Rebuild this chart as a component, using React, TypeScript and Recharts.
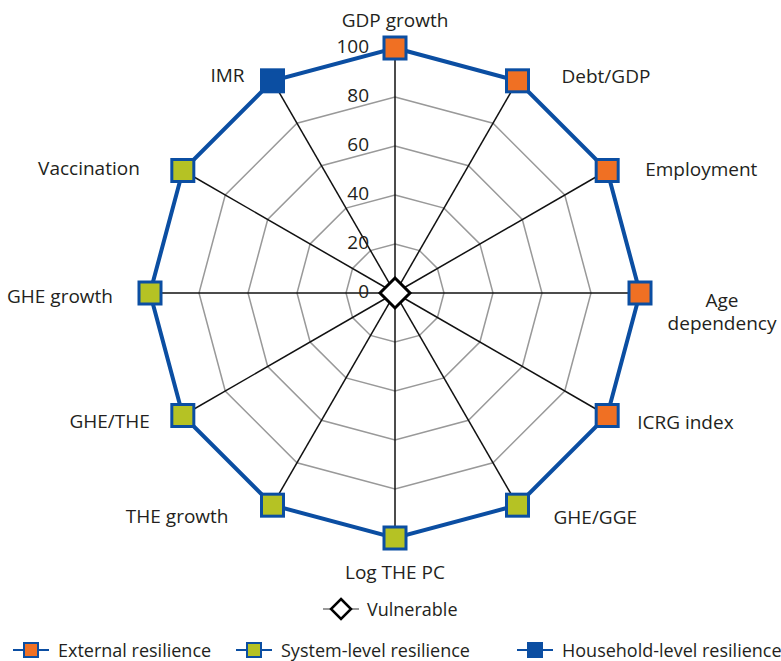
import React from "react";
import {
  RadarChart,
  Radar,
  PolarGrid,
  PolarAngleAxis,
  PolarRadiusAxis,
} from "recharts";

// indicators clockwise from the top
const indicators = [
  "GDP growth",
  "Debt/GDP",
  "Employment",
  "Age dependency",
  "ICRG index",
  "GHE/GGE",
  "Log THE PC",
  "THE growth",
  "GHE/THE",
  "GHE growth",
  "Vaccination",
  "IMR",
];

const scores = [100, 100, 100, 100, 100, 100, 100, 100, 100, 100, 100, 100];
const vulnerable = [0, 0, 0, 0, 0, 0, 0, 0, 0, 0, 0, 0];

// which resilience group each indicator belongs to
const groups = [
  "external",
  "external",
  "external",
  "external",
  "external",
  "system",
  "system",
  "system",
  "system",
  "system",
  "system",
  "household",
];

const radiusTicks = [0, 20, 40, 60, 80, 100];

const data = indicators.map((axis, i) => ({
  axis,
  score: scores[i],
  vulnerable: vulnerable[i],
}));

const BLUE = "#0b4ea2";
const ORANGE = "#f07023";
const GREEN = "#b5c224";
const TEXT = "#231f20";
const FONT = "'Open Sans', sans-serif";
const FS = 19;
const LEGEND_FS = 18;

const CX = 395;
const CY = 293;
const R = 245;

const fills: Record<string, string> = {
  external: ORANGE,
  system: GREEN,
  household: BLUE,
};

// label placement relative to the axis end point
const labelOffsets: Record<string, { dx: number; dy: number; anchor: string }> = {
  "GDP growth": { dx: 0, dy: -28, anchor: "middle" },
  "Debt/GDP": { dx: 44, dy: -4, anchor: "start" },
  Employment: { dx: 38, dy: -1, anchor: "start" },
  "Age dependency": { dx: 82, dy: 7, anchor: "middle" },
  "ICRG index": { dx: 30, dy: 7, anchor: "start" },
  "GHE/GGE": { dx: 36, dy: 12, anchor: "start" },
  "Log THE PC": { dx: 0, dy: 34, anchor: "middle" },
  "THE growth": { dx: -44, dy: 11, anchor: "end" },
  "GHE/THE": { dx: -33, dy: 6, anchor: "end" },
  "GHE growth": { dx: -37, dy: 3, anchor: "end" },
  Vaccination: { dx: -43, dy: -2, anchor: "end" },
  IMR: { dx: -28, dy: -5, anchor: "end" },
};

function AngleTick(props: any) {
  const { payload, index } = props;
  const label: string = payload.value;
  const a = ((90 - index * 30) * Math.PI) / 180;
  const px = CX + R * Math.cos(a);
  const py = CY - R * Math.sin(a);
  const o = labelOffsets[label] || { dx: 0, dy: 0, anchor: "middle" };
  if (label === "Age dependency") {
    return (
      <text x={px + o.dx} y={py + o.dy} textAnchor="middle" fill={TEXT} fontSize={FS} fontFamily={FONT}>
        <tspan x={px + o.dx} dy="0.35em">Age</tspan>
        <tspan x={px + o.dx} dy="1.25em">dependency</tspan>
      </text>
    );
  }
  return (
    <text
      x={px + o.dx}
      y={py + o.dy}
      dy="0.35em"
      textAnchor={o.anchor}
      fill={TEXT}
      fontSize={FS}
      fontFamily={FONT}
    >
      {label}
    </text>
  );
}

function RadiusTick(props: any) {
  const { x, y, payload } = props;
  return (
    <text x={x - 26} y={y - 2} dy="0.35em" textAnchor="end" fill={TEXT} fontSize={FS} fontFamily={FONT}>
      {payload.value}
    </text>
  );
}

function SquareDot(props: any) {
  const { cx, cy, index } = props;
  const fill = fills[groups[index]];
  return (
    <rect
      key={`sq-${index}`}
      x={cx - 11}
      y={cy - 11}
      width={22}
      height={22}
      fill={fill}
      stroke={BLUE}
      strokeWidth={3}
    />
  );
}

function DiamondDot(props: any) {
  const { cx, cy, index } = props;
  if (index !== 0) return <g key={`dm-${index}`} />;
  const s = 15;
  return (
    <polygon
      key={`dm-${index}`}
      points={`${cx},${cy - s} ${cx + s},${cy} ${cx},${cy + s} ${cx - s},${cy}`}
      fill="#fff"
      stroke="#000"
      strokeWidth={3}
    />
  );
}

function LegendSquare({ fill }: { fill: string }) {
  return (
    <svg width={36} height={18} style={{ display: "block", flex: "none" }}>
      <line x1={0} y1={9} x2={36} y2={9} stroke={BLUE} strokeWidth={2} />
      <rect x={11} y={2} width={14} height={14} fill={fill} stroke={BLUE} strokeWidth={2} />
    </svg>
  );
}

const legendItems = [
  { label: "External resilience", fill: ORANGE, left: 13 },
  { label: "System-level resilience", fill: GREEN, left: 236 },
  { label: "Household-level resilience", fill: BLUE, left: 517 },
];

export default function App() {
  return (
    <div style={{ position: "absolute", left: 0, top: 0, width: 781, height: 661, background: "#fff", fontFamily: FONT, overflow: "hidden" }}>
      <RadarChart
        width={781}
        height={661}
        data={data}
        cx={CX}
        cy={CY}
        outerRadius={R}
        startAngle={90}
        endAngle={-270}
        margin={{ top: 0, right: 0, bottom: 0, left: 0 }}
      >
        <PolarGrid gridType="polygon" radialLines={false} stroke="#999" strokeWidth={1.5} />
        <PolarGrid gridType="polygon" radialLines polarRadius={[0]} stroke="#111" strokeWidth={1.5} />
        <PolarAngleAxis dataKey="axis" tick={<AngleTick />} tickLine={false} axisLine={false} />
        <PolarRadiusAxis
          angle={90}
          domain={[0, 100]}
          ticks={radiusTicks as any}
          tickCount={6}
          axisLine={false}
          tickLine={false}
          tick={<RadiusTick />}
        />
        <Radar
          dataKey="score"
          stroke={BLUE}
          strokeWidth={4}
          fill="none"
          fillOpacity={0}
          dot={<SquareDot />}
          isAnimationActive={false}
        />
        <Radar
          dataKey="vulnerable"
          stroke="none"
          fill="none"
          dot={<DiamondDot />}
          isAnimationActive={false}
        />
      </RadarChart>

      <div
        style={{
          position: "absolute",
          left: 323,
          top: 597,
          height: 24,
          lineHeight: "24px",
          display: "flex",
          alignItems: "center",
          fontSize: LEGEND_FS,
          color: TEXT,
          whiteSpace: "nowrap",
        }}
      >
        <svg width={36} height={24} style={{ display: "block", flex: "none" }}>
          <line x1={0} y1={12} x2={36} y2={12} stroke="#999" strokeWidth={2} />
          <polygon points="18,2 28,12 18,22 8,12" fill="#fff" stroke="#000" strokeWidth={2.5} />
        </svg>
        <span style={{ marginLeft: 8 }}>Vulnerable</span>
      </div>

      {legendItems.map((it) => (
        <div
          key={it.label}
          style={{
            position: "absolute",
            left: it.left,
            top: 639,
            height: 22,
            lineHeight: "22px",
            display: "flex",
            alignItems: "center",
            fontSize: LEGEND_FS,
            color: TEXT,
            whiteSpace: "nowrap",
          }}
        >
          <LegendSquare fill={it.fill} />
          <span style={{ marginLeft: 9 }}>{it.label}</span>
        </div>
      ))}
    </div>
  );
}
